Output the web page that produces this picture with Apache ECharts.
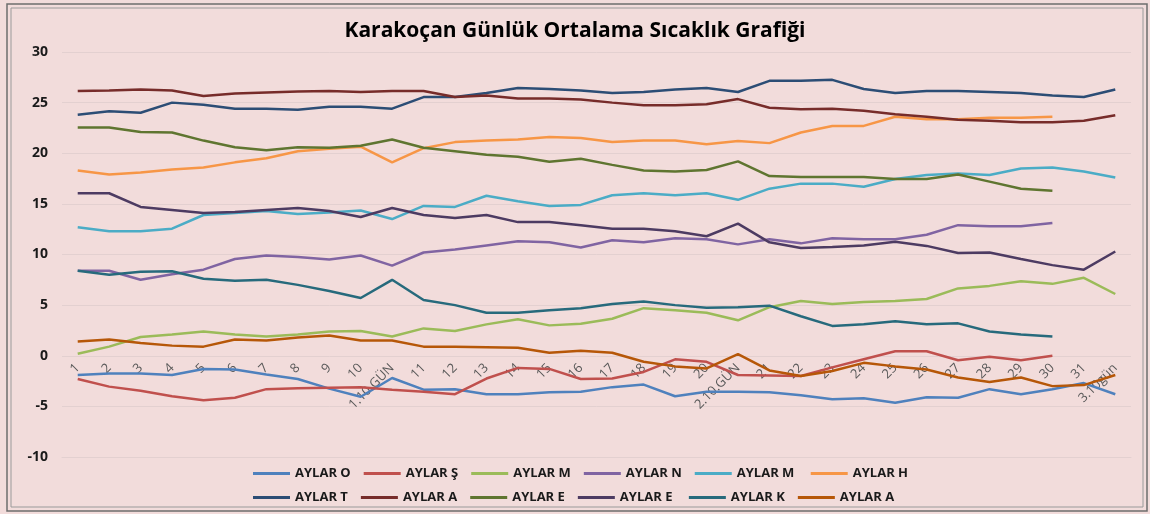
<html>
<head>
<meta charset="utf-8">
<title>Karakoçan Günlük Ortalama Sıcaklık Grafiği</title>
<script src="https://cdn.jsdelivr.net/npm/echarts@6/dist/echarts.min.js"></script>
</head>
<body style="margin:0;background:#fff;">
<div id="main" style="width:1150px;height:514px;"></div>
<script type="text/javascript">
// gün etiketleri (10 günlük ortalamalar araya girmiş)
var gunler = ['1','2','3','4','5','6','7','8','9','10','1.10 GÜN',
  '11','12','13','14','15','16','17','18','19','20','2.10.GÜN',
  '21','22','23','24','25','26','27','28','29','30','31','3.10gün'];
var yTicks = [-10, 30, 5];

// ay serileri
var ocak    = [-1.9,-1.75,-1.75,-1.9,-1.3,-1.35,-1.85,-2.3,-3.25,-4.05,-2.2,-3.35,-3.3,-3.8,-3.8,-3.6,-3.55,-3.1,-2.85,-4.0,-3.55,-3.55,-3.6,-3.9,-4.3,-4.2,-4.65,-4.1,-4.15,-3.3,-3.8,-3.3,-2.7,-3.8];
var subat   = [-2.3,-3.05,-3.45,-4.0,-4.4,-4.15,-3.3,-3.2,-3.15,-3.1,-3.35,-3.55,-3.8,-2.25,-1.2,-1.3,-2.3,-2.25,-1.6,-0.35,-0.6,-1.9,-1.95,-2.0,-1.15,-0.35,0.45,0.45,-0.45,-0.1,-0.45,0.0];
var mart    = [0.2,0.9,1.85,2.1,2.4,2.1,1.9,2.1,2.4,2.45,1.9,2.7,2.45,3.1,3.6,3.0,3.15,3.65,4.7,4.5,4.25,3.5,4.8,5.4,5.1,5.3,5.4,5.6,6.65,6.9,7.35,7.1,7.7,6.1];
var nisan   = [8.4,8.4,7.5,8.05,8.5,9.55,9.9,9.75,9.5,9.9,8.9,10.2,10.5,10.9,11.3,11.2,10.7,11.4,11.2,11.6,11.5,11.0,11.5,11.1,11.6,11.5,11.5,11.95,12.9,12.8,12.8,13.1];
var mayis   = [12.7,12.3,12.3,12.55,13.9,14.1,14.3,14.0,14.15,14.35,13.5,14.8,14.7,15.8,15.25,14.8,14.9,15.85,16.05,15.85,16.05,15.4,16.5,17.0,17.0,16.7,17.45,17.85,18.0,17.85,18.5,18.6,18.2,17.6];
var haziran = [18.3,17.9,18.1,18.4,18.6,19.1,19.5,20.2,20.45,20.65,19.1,20.5,21.1,21.25,21.35,21.6,21.5,21.1,21.25,21.25,20.9,21.2,21.0,22.05,22.7,22.7,23.6,23.35,23.35,23.5,23.5,23.6];
var temmuz  = [23.8,24.15,24.0,25.0,24.8,24.4,24.4,24.3,24.6,24.6,24.4,25.55,25.55,25.95,26.45,26.35,26.2,25.95,26.05,26.3,26.45,26.05,27.15,27.15,27.25,26.35,25.95,26.15,26.15,26.05,25.95,25.7,25.55,26.3];
var agustos = [26.15,26.2,26.3,26.2,25.65,25.9,26.0,26.1,26.15,26.05,26.15,26.15,25.55,25.7,25.4,25.4,25.3,25.0,24.75,24.75,24.85,25.35,24.5,24.35,24.4,24.2,23.85,23.6,23.3,23.2,23.05,23.05,23.2,23.75];
var eylul   = [22.55,22.55,22.1,22.05,21.25,20.6,20.3,20.6,20.55,20.75,21.35,20.55,20.2,19.85,19.65,19.15,19.45,18.85,18.3,18.2,18.35,19.2,17.75,17.65,17.65,17.65,17.45,17.45,17.9,17.2,16.5,16.3];
var ekim    = [16.05,16.05,14.7,14.4,14.1,14.2,14.4,14.6,14.3,13.7,14.6,13.9,13.6,13.9,13.2,13.2,12.9,12.55,12.55,12.3,11.8,13.05,11.2,10.65,10.75,10.9,11.25,10.85,10.15,10.2,9.55,8.95,8.5,10.3];
var kasim   = [8.4,8.0,8.3,8.35,7.6,7.4,7.5,7.0,6.4,5.7,7.5,5.5,5.0,4.25,4.25,4.5,4.7,5.1,5.35,5.0,4.75,4.8,4.95,3.9,2.95,3.1,3.4,3.1,3.2,2.4,2.1,1.9];
var aralik  = [1.4,1.6,1.25,1.0,0.9,1.6,1.5,1.8,2.0,1.5,1.5,0.9,0.9,0.85,0.8,0.3,0.5,0.3,-0.6,-1.05,-1.25,0.15,-1.45,-2.0,-1.5,-0.7,-1.05,-1.35,-2.15,-2.6,-2.15,-3.0,-2.9,-1.9];

var adlar1 = ['AYLAR O','AYLAR Ş','AYLAR M','AYLAR N','AYLAR M ','AYLAR H'];
var adlar2 = ['AYLAR T','AYLAR A','AYLAR E','AYLAR E ','AYLAR K','AYLAR A '];
var veriler = [ocak, subat, mart, nisan, mayis, haziran, temmuz, agustos, eylul, ekim, kasim, aralik];
var renkler = ['#4F81BD','#C0504D','#9BBB59','#8064A2','#4BACC6','#F79646',
               '#2C4D75','#772C2A','#5F7530','#4D3B62','#276A7C','#B65708'];

var myChart = echarts.init(document.getElementById('main'));
var adlar = adlar1.concat(adlar2);
var seriler = [];
for (var i = 0; i < veriler.length; i++) {
  seriler.push({
    name: adlar[i],
    type: 'line',
    data: veriler[i],
    symbol: 'none',
    lineStyle: { width: 2.5 },
    animation: false
  });
}

var legendOrtak = {
  left: 253,
  padding: 0,
  itemWidth: 37,
  itemHeight: 3,
  itemGap: 13,
  icon: 'rect',
  textStyle: { fontFamily: 'Open Sans', fontWeight: 'bold', fontSize: 13, color: '#1a1a1a', width: 59 }
};

var option = {
  backgroundColor: '#F2DCDB',
  color: renkler,
  textStyle: { fontFamily: 'Open Sans' },
  title: {
    text: 'Karakoçan Günlük Ortalama Sıcaklık Grafiği',
    left: 'center',
    top: 16,
    textStyle: { fontFamily: 'Open Sans', fontWeight: 'bold', fontSize: 21, color: '#000' }
  },
  legend: [
    Object.assign({ top: 467, data: adlar1 }, legendOrtak),
    Object.assign({ top: 491, data: adlar2 }, legendOrtak)
  ],
  grid: { left: 62, right: 19, top: 52, bottom: 57, containLabel: false },
  xAxis: {
    type: 'category',
    data: gunler,
    boundaryGap: true,
    axisLine: { onZero: false, lineStyle: { color: '#e3d0d0' } },
    axisTick: { show: false },
    // Excel'deki gibi etiketler sıfır çizgisinin hemen altında
    axisLabel: { rotate: 45, interval: 0, color: '#595959', fontSize: 13, fontFamily: 'Open Sans', margin: -91 }
  },
  yAxis: {
    type: 'value',
    min: yTicks[0],
    max: yTicks[1],
    interval: yTicks[2],
    axisLine: { show: false },
    axisTick: { show: false },
    axisLabel: { color: '#1a1a1a', fontWeight: 'bold', fontSize: 14, fontFamily: 'Open Sans', margin: 14 },
    splitLine: { lineStyle: { color: '#e3d0d0', width: 1 } }
  },
  graphic: [
    { type: 'rect', shape: { x: 7, y: 4, width: 1140, height: 507 }, style: { fill: 'none', stroke: '#6d6d6d', lineWidth: 1.5 } },
    { type: 'rect', shape: { x: 11, y: 8, width: 1132, height: 499 }, style: { fill: 'none', stroke: '#9a9a9a', lineWidth: 1 } }
  ],
  series: seriler
};
myChart.setOption(option);
</script>
</body>
</html>
